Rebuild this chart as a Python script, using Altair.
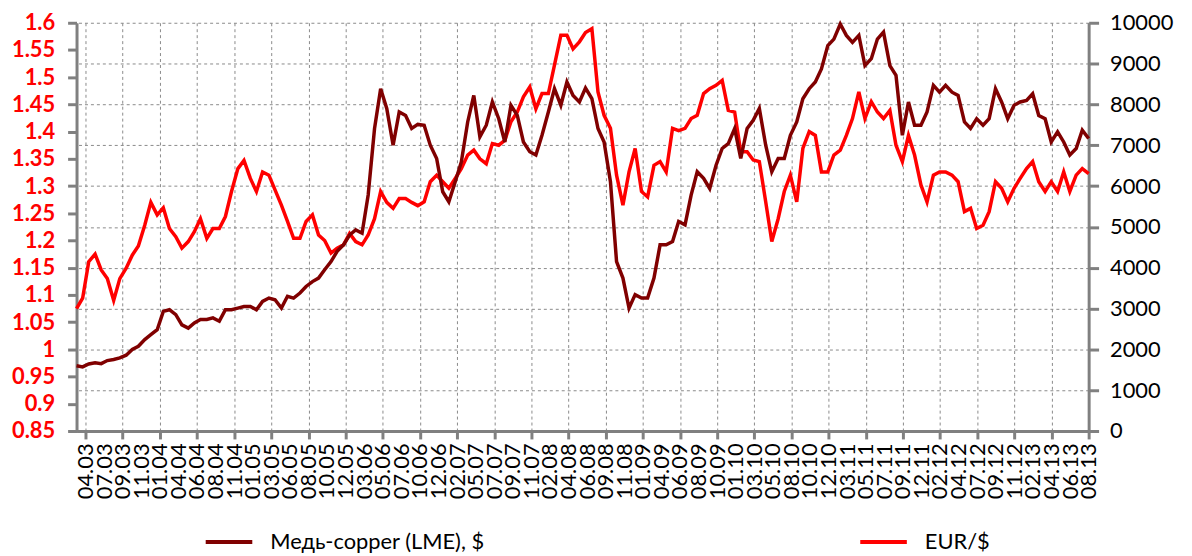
import altair as alt
import pandas as pd

# ---- data ----
# sample dates: 164 evenly spaced observations from 22.03.2003 to 30.08.2013
start_date = "2003-03-22"
end_date = "2013-08-30"
n_points = 164

eur_usd = [
    1.075, 1.094, 1.161, 1.175, 1.146, 1.130, 1.090, 1.130, 1.149, 1.173,
    1.190, 1.228, 1.270, 1.247, 1.260, 1.222, 1.207, 1.186, 1.198, 1.216,
    1.240, 1.204, 1.222, 1.222, 1.244, 1.290, 1.332, 1.347, 1.314, 1.290,
    1.326, 1.320, 1.293, 1.265, 1.235, 1.204, 1.204, 1.235, 1.247, 1.210,
    1.200, 1.177, 1.186, 1.192, 1.213, 1.198, 1.192, 1.210, 1.240, 1.290,
    1.270, 1.259, 1.277, 1.277, 1.270, 1.264, 1.271, 1.308, 1.320, 1.308,
    1.296, 1.314, 1.332, 1.357, 1.366, 1.350, 1.341, 1.378, 1.375, 1.384,
    1.418, 1.436, 1.464, 1.482, 1.442, 1.470, 1.470, 1.522, 1.577, 1.577,
    1.552, 1.565, 1.582, 1.589, 1.473, 1.430, 1.406, 1.320, 1.265, 1.326,
    1.369, 1.290, 1.280, 1.338, 1.345, 1.326, 1.406, 1.402, 1.406, 1.424,
    1.430, 1.470, 1.479, 1.485, 1.494, 1.439, 1.436, 1.363, 1.363, 1.348,
    1.345, 1.271, 1.198, 1.240, 1.290, 1.320, 1.271, 1.369, 1.400, 1.393,
    1.326, 1.326, 1.357, 1.366, 1.393, 1.424, 1.473, 1.424, 1.455, 1.436,
    1.424, 1.439, 1.375, 1.345, 1.393, 1.357, 1.302, 1.271, 1.320, 1.326,
    1.326, 1.320, 1.308, 1.253, 1.259, 1.222, 1.228, 1.253, 1.308, 1.296,
    1.271, 1.296, 1.314, 1.332, 1.345, 1.308, 1.290, 1.308, 1.290, 1.326,
    1.290, 1.320, 1.332, 1.323,
]

copper_lme = [
    1600, 1570, 1640, 1670, 1650, 1725, 1750, 1790, 1856, 1995,
    2075, 2240, 2360, 2480, 2930, 2970, 2850, 2600, 2520, 2645,
    2730, 2730, 2770, 2690, 2970, 2970, 3010, 3050, 3050, 2970,
    3175, 3256, 3215, 3010, 3300, 3256, 3380, 3540, 3660, 3745,
    3950, 4150, 4400, 4560, 4800, 4925, 4845, 5780, 7410, 8385,
    7900, 7000, 7815, 7730, 7410, 7510, 7490, 7000, 6675, 5860,
    5615, 6105, 6590, 7570, 8220, 7205, 7490, 8060, 7650, 7080,
    7980, 7730, 7080, 6840, 6760, 7245, 7815, 8385, 7980, 8550,
    8220, 8060, 8400, 8140, 7410, 7080, 6105, 4150, 3745, 3010,
    3340, 3256, 3256, 3745, 4560, 4560, 4640, 5130, 5050, 5780,
    6350, 6190, 5940, 6510, 6920, 7040, 7410, 6675, 7410, 7610,
    7900, 7000, 6350, 6675, 6675, 7245, 7570, 8140, 8385, 8550,
    8870, 9440, 9600, 9970, 9690, 9520, 9690, 8950, 9120, 9600,
    9770, 8950, 8710, 7245, 8060, 7490, 7490, 7815, 8465, 8300,
    8465, 8300, 8220, 7570, 7410, 7650, 7490, 7650, 8385, 8060,
    7650, 7980, 8060, 8100, 8260, 7730, 7650, 7080, 7330, 7080,
    6760, 6920, 7370, 7165,
]

series_names = ["Медь-copper (LME), $", "EUR/$"]
series_colors = ["#800000", "#FF0000"]

tick_dates = [
    "2003-04-25", "2003-07-04", "2003-09-12", "2003-11-21", "2004-01-30",
    "2004-04-09", "2004-06-18", "2004-08-27", "2004-11-05", "2005-01-14",
    "2005-03-25", "2005-06-03", "2005-08-12", "2005-10-21", "2005-12-30",
    "2006-03-10", "2006-05-19", "2006-07-28", "2006-10-06", "2006-12-15",
    "2007-02-23", "2007-05-04", "2007-07-13", "2007-09-21", "2007-11-30",
    "2008-02-08", "2008-04-18", "2008-06-27", "2008-09-05", "2008-11-14",
    "2009-01-23", "2009-04-03", "2009-06-12", "2009-08-21", "2009-10-30",
    "2010-01-08", "2010-03-19", "2010-05-28", "2010-08-06", "2010-10-15",
    "2010-12-24", "2011-03-04", "2011-05-13", "2011-07-22", "2011-09-30",
    "2011-12-09", "2012-02-17", "2012-04-27", "2012-07-06", "2012-09-14",
    "2012-11-23", "2013-02-01", "2013-04-12", "2013-06-21", "2013-08-30",
]

eur_ticks = [0.85, 0.9, 0.95, 1.0, 1.05, 1.1, 1.15, 1.2, 1.25, 1.3, 1.35,
             1.4, 1.45, 1.5, 1.55, 1.6]
copper_ticks = [0, 1000, 2000, 3000, 4000, 5000, 6000, 7000, 8000, 9000, 10000]

# ---- tables ----
dates = pd.date_range(start_date, end_date, periods=n_points).strftime("%Y-%m-%d")
df = pd.concat([
    pd.DataFrame({"date": dates, "value": copper_lme, "series": series_names[0]}),
    pd.DataFrame({"date": dates, "value": eur_usd, "series": series_names[1]}),
], ignore_index=True)

FONT = "Lato"
GRAY = "#808080"
n_ticks = len(tick_dates) - 1
even_test = f"round(datum.index * {n_ticks}) % 2 === 0"

color = alt.Color(
    "series:N",
    scale=alt.Scale(domain=series_names, range=series_colors),
    legend=alt.Legend(
        orient="none", legendX=128, legendY=497, direction="horizontal",
        title=None, symbolType="stroke", symbolSize=2200, symbolStrokeWidth=4,
        labelFont=FONT, labelFontSize=22, labelColor="#000000",
        columnPadding=370, labelOffset=16, labelLimit=500,
    ),
)

x_enc = alt.X(
    "date:T",
    scale=alt.Scale(domain=[start_date, end_date], nice=False),
    axis=alt.Axis(
        values=tick_dates, format="%m.%y", labelAngle=270, title=None,
        labelFont=FONT, labelFontSize=22, labelColor="#000000",
        labelOverlap=False, labelFlush=False, labelPadding=4,
        tickSize=8, tickWidth=3, tickColor=GRAY,
        tickOpacity={"condition": {"test": even_test, "value": 1}, "value": 0},
        grid=True, gridDash=[3, 3], gridColor="#8a8a8a", gridWidth=1,
        gridOpacity={"condition": {"test": even_test, "value": 1}, "value": 0},
        domainColor=GRAY, domainWidth=3,
    ),
)

eur_line = alt.Chart(df).transform_filter(
    alt.datum.series == series_names[1]
).mark_line(strokeWidth=3.5).encode(
    x=x_enc,
    y=alt.Y(
        "value:Q",
        scale=alt.Scale(domain=[0.85, 1.6], nice=False, zero=False),
        axis=alt.Axis(
            orient="left", values=eur_ticks, format="~g", title=None,
            labelFont=FONT, labelFontSize=22, labelFontWeight="bold",
            labelColor="#FF0000", labelPadding=13,
            tickSize=9, tickWidth=3, tickColor=GRAY,
            domainColor=GRAY, domainWidth=3, grid=False,
        ),
    ),
    color=color,
)

copper_line = alt.Chart(df).transform_filter(
    alt.datum.series == series_names[0]
).mark_line(strokeWidth=3.5).encode(
    x=x_enc,
    y=alt.Y(
        "value:Q",
        scale=alt.Scale(domain=[0, 10000], nice=False),
        axis=alt.Axis(
            orient="right", values=copper_ticks, format="d", title=None,
            labelFont=FONT, labelFontSize=22, labelColor="#000000",
            labelPadding=11,
            tickSize=10, tickWidth=3, tickColor=GRAY,
            domainColor=GRAY, domainWidth=3,
            grid=True, gridDash=[3, 3], gridColor="#8a8a8a", gridWidth=1,
        ),
    ),
    color=color,
)

chart = alt.layer(eur_line, copper_line).resolve_scale(
    y="independent"
).properties(
    width=1019, height=411,
    autosize=alt.AutoSizeParams(type="none"),
    padding={"left": 69, "top": 13, "right": 96, "bottom": 124},
    background="#FFFFFF",
).configure_view(strokeWidth=0)

chart.save("out.html", embed_options={"renderer": "svg", "actions": False})
